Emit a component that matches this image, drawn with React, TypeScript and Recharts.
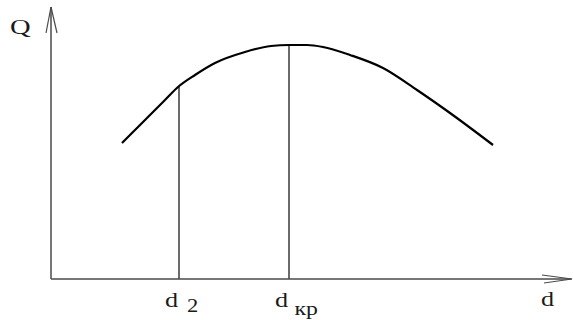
import { ComposedChart, Line, XAxis, YAxis, ReferenceLine, Label } from "recharts"

// curve Q(d) (arbitrary units)
const dValues = [71, 84, 97, 114, 127, 144, 164, 194, 220, 238, 256, 272, 299, 332, 366, 399, 442]
const qValues = [136, 149, 162, 179, 192, 204, 216, 227, 233, 234, 234, 232, 224, 211, 189, 166, 134]

// marked points on the d axis
const markD = [128, 238]
const markQ = [192, 234]
const markLabels = [
  { main: "d", sub: "2", subSize: 18, dx: 7, dy: 5 },
  { main: "d", sub: "кр", subSize: 19, dx: 5, dy: 8 },
]

const data = dValues.map((d, i) => ({ d, q: qValues[i] }))

const serif = "Liberation Serif, Times New Roman, serif"
const axisColor = "#4a4a4a"
const textColor = "#1a1a1a"

function MarkTick(props: any) {
  const { x, y, index } = props
  const lab = markLabels[index]
  if (!lab) return null
  return (
    <text
      transform={`translate(${x - 14},${y + 28}) scale(1.25,1)`}
      fontFamily={serif}
      style={{ fontFamily: serif }}
      fill={textColor}
    >
      <tspan fontSize={21}>{lab.main}</tspan>
      <tspan fontSize={lab.subSize} dx={lab.dx} dy={lab.dy}>
        {lab.sub}
      </tspan>
    </text>
  )
}

export default function App() {
  return (
    <div style={{ position: "fixed", left: 0, top: 0, background: "#fff" }}>
      <ComposedChart width={573} height={320} data={data} margin={{ top: 7, right: 2, left: 0, bottom: 0 }}>
        <XAxis
          type="number"
          dataKey="d"
          domain={[0, 520]}
          ticks={markD}
          tick={<MarkTick />}
          tickLine={false}
          tickSize={0}
          tickMargin={0}
          height={41}
          axisLine={{ stroke: axisColor, strokeWidth: 1.5 }}
          allowDataOverflow
        >
          <Label
            content={(p: any) => {
              const vb = p.viewBox
              return (
                <text
                  transform={`translate(${vb.x + vb.width - 30},${vb.y + 27}) scale(1.25,1)`}
                  fontFamily={serif}
                  style={{ fontFamily: serif }}
                  fontSize={21}
                  fill={textColor}
                >
                  d
                </text>
              )
            }}
          />
        </XAxis>
        <YAxis
          type="number"
          domain={[0, 272]}
          tick={false}
          tickLine={false}
          width={51}
          axisLine={{ stroke: axisColor, strokeWidth: 1.5 }}
          allowDataOverflow
        >
          <Label
            content={(p: any) => {
              const vb = p.viewBox
              return (
                <text
                  transform={`translate(${vb.x + 10},${vb.y + 27}) scale(1.3,1)`}
                  fontFamily={serif}
                  style={{ fontFamily: serif }}
                  fontSize={22}
                  fill={textColor}
                >
                  Q
                </text>
              )
            }}
          />
        </YAxis>

        {/* arrowheads */}
        <ReferenceLine segment={[{ x: -5, y: 246 }, { x: 0, y: 272 }]} stroke={axisColor} strokeWidth={1.2} ifOverflow="visible" />
        <ReferenceLine segment={[{ x: 6, y: 246 }, { x: 0, y: 272 }]} stroke={axisColor} strokeWidth={1.2} ifOverflow="visible" />
        <ReferenceLine segment={[{ x: 491, y: 4 }, { x: 521, y: 0 }]} stroke={axisColor} strokeWidth={1.2} ifOverflow="visible" />
        <ReferenceLine segment={[{ x: 493, y: -4 }, { x: 521, y: 0 }]} stroke={axisColor} strokeWidth={1.2} ifOverflow="visible" />

        {markD.map((d, i) => (
          <ReferenceLine
            key={i}
            segment={[{ x: d, y: 0 }, { x: d, y: markQ[i] }]}
            stroke="#3a3a3a"
            strokeWidth={1.5}
            ifOverflow="visible"
          />
        ))}

        <Line type="monotone" dataKey="q" stroke="#000" strokeWidth={2.2} dot={false} isAnimationActive={false} />
      </ComposedChart>
    </div>
  )
}
